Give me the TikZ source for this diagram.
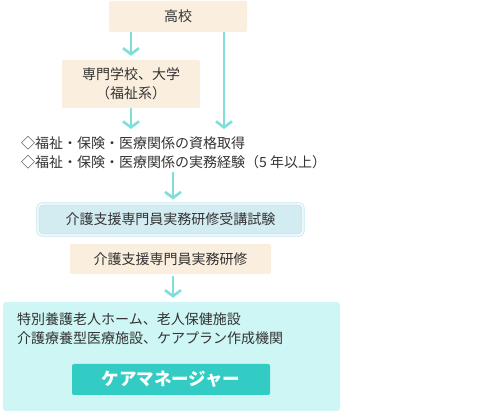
\documentclass[tikz,border=0pt]{standalone}
\usepackage{fontspec}
\setmainfont{Noto Sans CJK JP}
\usetikzlibrary{arrows.meta, positioning, calc}
\definecolor{boxbeige}{HTML}{FAEEDE}
\definecolor{examblue}{HTML}{D3ECF2}
\definecolor{examedge}{HTML}{C6E7EF}
\definecolor{workcyan}{HTML}{CEF6F4}
\definecolor{mgrteal}{HTML}{33CCC4}
\definecolor{arrowcyan}{HTML}{7EDEDA}
\definecolor{textgray}{HTML}{333333}

\begin{document}
\begin{tikzpicture}[x=1pt, y=1pt, text=textgray,
    every node/.style={font=\fontsize{14}{19}\selectfont},
    beigebox/.style={fill=boxbeige, rounded corners=2pt, inner sep=0pt},
    exambox/.style={fill=examblue, draw=examedge, double=white, double distance=1.4pt, line width=0.9pt, rounded corners=4pt, inner sep=0pt},
    flow/.style={draw=arrowcyan, line width=2.6pt, -{Straight Barb[length=6pt, width=16pt]}}]
    \useasboundingbox (0,0) rectangle (504,-414);

    % Boxes
    \node[beigebox, minimum width=138pt, minimum height=31pt] (school) at (178,-16.5) {高校};
    \node[beigebox, minimum width=138pt, minimum height=48pt, align=center] (college) at (131,-84) {専門学校、大学\\（福祉系）};
    \node[anchor=west, align=left, inner sep=0pt] (career) at (21,-152.5) {◇福祉・保険・医療関係の資格取得\\◇福祉・保険・医療関係の実務経験（5 年以上）};
    \node[exambox, minimum width=265pt, minimum height=31pt] (exam) at (170.5,-219.5) {介護支援専門員実務研修受講試験};
    \node[beigebox, minimum width=201pt, minimum height=30pt] (training) at (170.5,-259) {介護支援専門員実務研修};
    \node[fill=workcyan, rounded corners=3pt, minimum width=337pt, minimum height=109pt] (work) at (171.5,-356.5) {};
    \node[anchor=west, align=left, inner sep=0pt] (places) at (17,-329) {特別養護老人ホーム、老人保健施設\\介護療養型医療施設、ケアプラン作成機関};
    \node[fill=mgrteal, rounded corners=2pt, minimum width=198pt, minimum height=31pt, text=white, font=\fontsize{17.5}{20}\selectfont\bfseries] (manager) at (171,-379.5) {ケアマネージャー};

    % Arrows
    \coordinate (rightend) at (224,-129);
    \coordinate (midline) at (173,0);
    \draw[flow, shorten >=4pt] (school.south -| college) -- (college.north);
    \draw[flow] (school.south -| rightend) -- (rightend);
    \draw[flow] (college.south) -- (college.south |- rightend);
    \draw[flow, shorten <=3pt, shorten >=4pt] (career.south -| midline) -- (exam.north -| midline);
    \draw[flow, shorten <=2pt, shorten >=4pt] (training.south -| midline) -- (work.north -| midline);
\end{tikzpicture}
\end{document}
